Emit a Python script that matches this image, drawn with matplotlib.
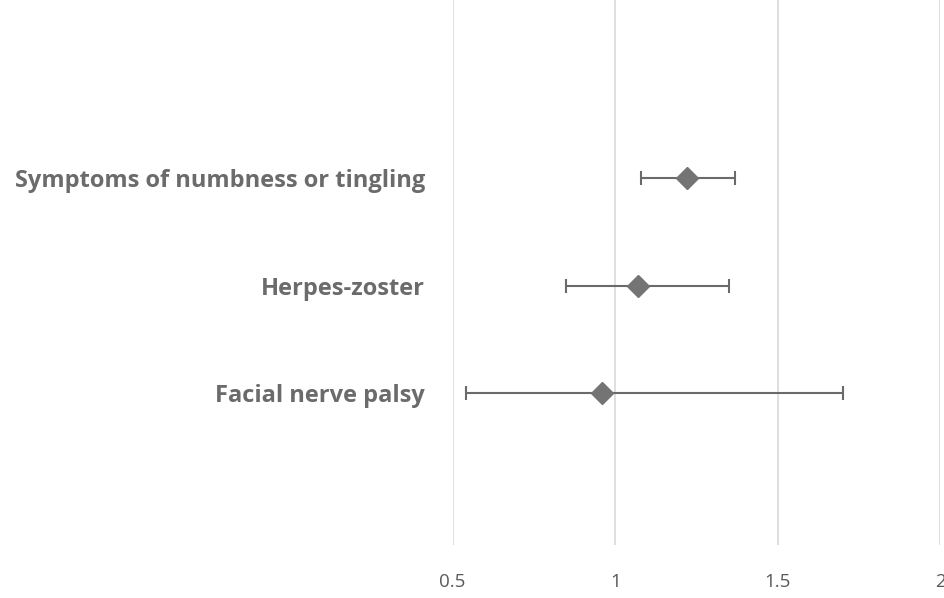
import numpy as np
import matplotlib
matplotlib.use("Agg")
import matplotlib.pyplot as plt

# forest-style data
labels = ["Facial nerve palsy", "Herpes-zoster", "Symptoms of numbness or tingling"]
estimate = [0.96, 1.07, 1.22]
lower = [0.54, 0.85, 1.08]
upper = [1.70, 1.35, 1.37]
xticks = [0.5, 1, 1.5, 2]
xticklabels = ["0.5", "1", "1.5", "2"]

plt.rcParams['font.family'] = ['Open Sans', 'DejaVu Sans']

fig = plt.figure(figsize=(9.45, 5.98), dpi=100)
ax = fig.add_axes([0.479, 0.0886, 0.516, 0.9114])

ypos = np.arange(1, len(labels) + 1)
est = np.array(estimate)
err = np.vstack([est - np.array(lower), np.array(upper) - est])

ax.errorbar(est, ypos, xerr=err, fmt='D', color='#747474', ecolor='#6a6a6a',
            markersize=11, elinewidth=1.5, capsize=5, capthick=1.5, zorder=3)

ax.set_xlim(0.5, 2.0)
ax.set_ylim(-0.41, 4.66)
ax.set_xticks(xticks)
ax.set_xticklabels(xticklabels, color='#595959', fontsize=13.5)
ax.set_yticks(ypos)
ax.set_yticklabels(labels, color='#6b6b6b', fontsize=17, fontweight='bold')
ax.tick_params(axis='y', length=0, pad=20)
ax.tick_params(axis='x', length=0, pad=20)
ax.grid(axis='x', color='#d9d9d9', linewidth=1.2)
ax.set_axisbelow(True)
for s in ax.spines.values():
    s.set_visible(False)

fig.savefig("out.png", dpi=100)
